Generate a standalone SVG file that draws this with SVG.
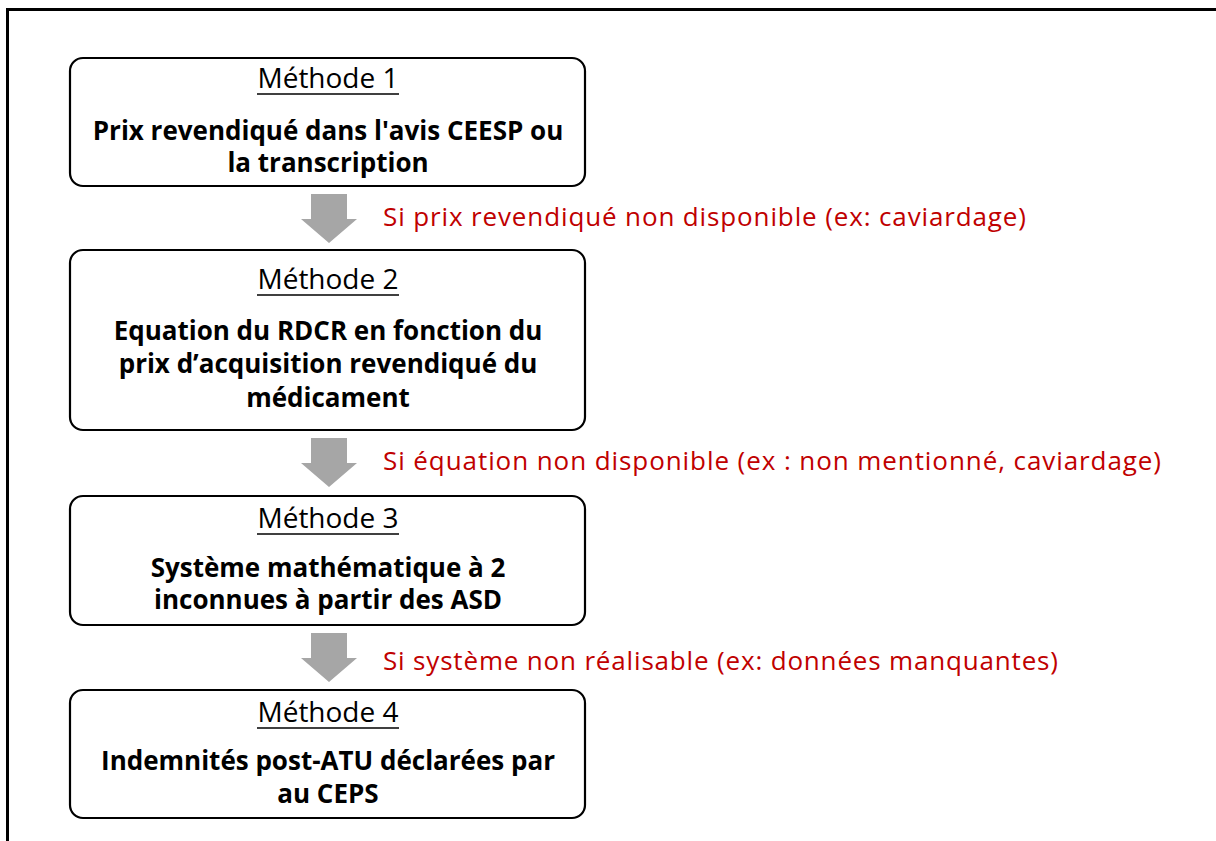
<svg xmlns="http://www.w3.org/2000/svg" width="1216" height="841" viewBox="0 0 1216 841">
<style>
.box{fill:#fff;stroke:#000;stroke-width:2.2}
.head{font-family:"Open Sans","Liberation Sans",sans-serif;font-size:28px;fill:#000;text-anchor:middle}
.body{font-family:"Open Sans","Liberation Sans",sans-serif;font-size:26px;font-weight:bold;fill:#000;text-anchor:middle}
.cond{font-family:"Open Sans","Liberation Sans",sans-serif;font-size:26px;fill:#C00000}
.ul{stroke:#000;stroke-width:1.6}
.arr{fill:#A6A6A6}
</style>
<defs>
<path id="down" d="M-18 0 H18 V25 H28 L0 49 L-28 25 H-18 Z"/>
</defs>
<rect width="1216" height="841" fill="#fff"/>
<path d="M7.5 841 V9.5 H1216" fill="none" stroke="#000" stroke-width="3"/>

<g id="connectors">
<use href="#down" class="arr" x="329" y="194"/>
<use href="#down" class="arr" x="329" y="438"/>
<use href="#down" class="arr" x="329" y="633"/>
<text class="cond" x="383" y="226" textLength="643">Si prix revendiqué non disponible (ex: caviardage)</text>
<text class="cond" x="383" y="470" textLength="778">Si équation non disponible (ex : non mentionné, caviardage)</text>
<text class="cond" x="383" y="670" textLength="675">Si système non réalisable (ex: données manquantes)</text>
</g>

<g id="node1">
<rect class="box" x="70" y="58" width="515" height="128" rx="13"/>
<text class="head" x="328" y="88">Méthode 1</text>
<line class="ul" x1="257" y1="94" x2="399" y2="94"/>
<text class="body" x="328" y="140">Prix revendiqué dans l'avis CEESP ou</text>
<text class="body" x="328" y="172">la transcription</text>
</g>

<g id="node2">
<rect class="box" x="70" y="250" width="515" height="180" rx="13"/>
<text class="head" x="328" y="289">Méthode 2</text>
<line class="ul" x1="257" y1="295" x2="399" y2="295"/>
<text class="body" x="328" y="340">Equation du RDCR en fonction du</text>
<text class="body" x="328" y="373">prix d’acquisition  revendiqué du</text>
<text class="body" x="328" y="407">médicament</text>
</g>

<g id="node3">
<rect class="box" x="70" y="496" width="515" height="129" rx="13"/>
<text class="head" x="328" y="528">Méthode 3</text>
<line class="ul" x1="257" y1="534" x2="399" y2="534"/>
<text class="body" x="328" y="577">Système mathématique à 2</text>
<text class="body" x="328" y="609">inconnues à partir des ASD</text>
</g>

<g id="node4">
<rect class="box" x="70" y="690" width="515" height="128" rx="13"/>
<text class="head" x="328" y="722">Méthode 4</text>
<line class="ul" x1="257" y1="728" x2="399" y2="728"/>
<text class="body" x="328" y="770">Indemnités post-ATU déclarées par</text>
<text class="body" x="328" y="803">au CEPS</text>
</g>
</svg>
